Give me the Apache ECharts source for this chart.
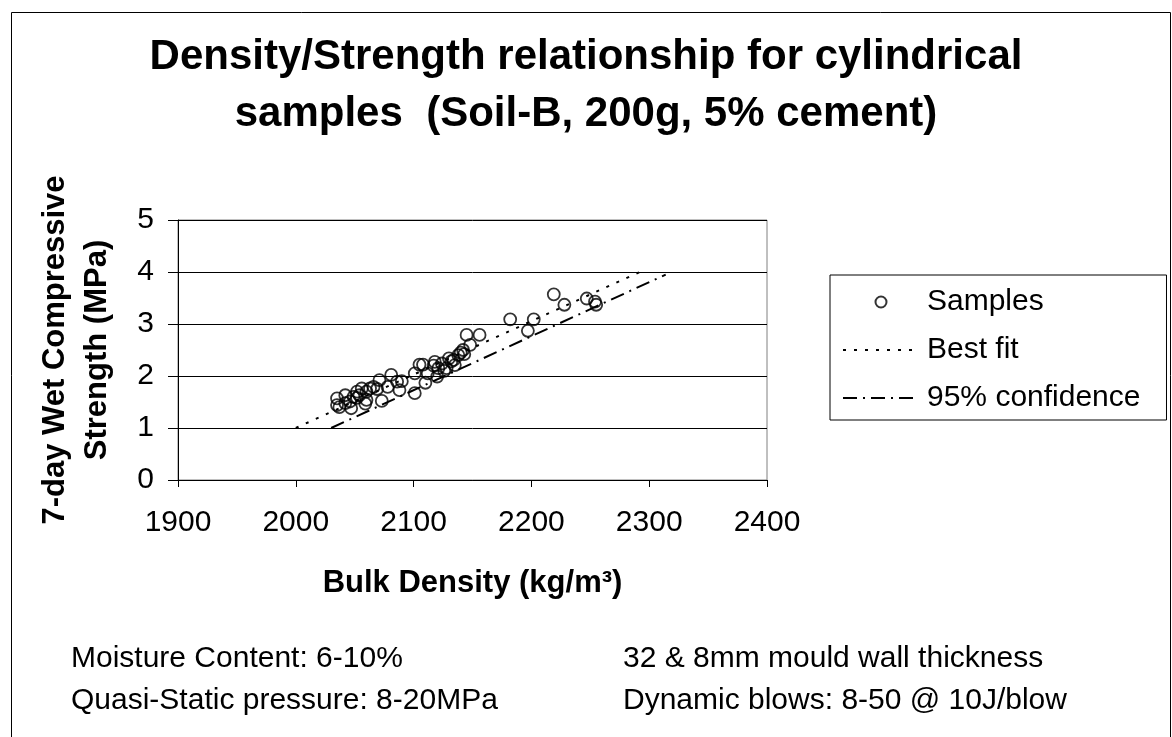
<!DOCTYPE html>
<html>
<head>
<meta charset="utf-8">
<script src="https://cdn.jsdelivr.net/npm/echarts@6/dist/echarts.min.js"></script>
<style>
  html, body { margin: 0; padding: 0; background: #fff; }
  #chart { width: 1172px; height: 737px; }
</style>
</head>
<body>
<div id="chart"></div>
<script>
// samples: [bulk density, strength]
var samples = [
    [2035, 1.57], [2035, 1.44], [2037, 1.40], [2042, 1.48], [2046, 1.51], [2049, 1.60],
    [2052, 1.70], [2054, 1.63], [2056, 1.76], [2060, 1.70], [2063, 1.76], [2066, 1.79],
    [2071, 1.92], [2073, 1.52], [2078, 1.79], [2081, 2.02], [2086, 1.89], [2047, 1.38],
    [2060, 1.54], [2042, 1.63], [2059, 1.47], [2052, 1.58], [2069, 1.75], [2088, 1.73],
    [2090, 1.90], [2101, 1.67], [2101, 2.05], [2105, 2.22], [2108, 2.22], [2112, 2.05],
    [2110, 1.87], [2118, 2.27], [2120, 1.99], [2121, 2.15], [2124, 2.24], [2128, 2.15],
    [2130, 2.34], [2134, 2.31], [2135, 2.21], [2138, 2.40], [2140, 2.45], [2142, 2.50],
    [2143, 2.42], [2145, 2.79], [2148, 2.60], [2156, 2.79], [2182, 3.09], [2197, 2.87],
    [2202, 3.09], [2219, 3.57], [2228, 3.37], [2247, 3.49], [2254, 3.43], [2255, 3.37],
    [2117, 2.20], [2126, 2.10], [2132, 2.28]
];
var bestFit = [[2000, 1.0], [2292, 4.0]];
var confidence95 = [[2030, 1.0], [2314, 3.95]];

var xTicks = [1900, 2400, 100];
var yTicks = [0, 5, 1];

var titleLines = ['Density/Strength relationship for cylindrical', 'samples  (Soil-B, 200g, 5% cement)'];
var notesLeft = ['Moisture Content: 6-10%', 'Quasi-Static pressure: 8-20MPa'];
var notesRight = ['32 & 8mm mould wall thickness', 'Dynamic blows: 8-50 @ 10J/blow'];

var FONT = "'Liberation Sans', Arial, sans-serif";

var option = {
    backgroundColor: '#fff',
    animation: false,
    textStyle: { fontFamily: FONT, color: '#000' },
    title: {
        text: titleLines.join('\n'),
        left: 'center',
        top: 24,
        textStyle: { fontFamily: FONT, fontSize: 42, fontWeight: 'bold', lineHeight: 57, color: '#000' }
    },
    grid: {
        left: 178,
        right: 405,
        top: 220,
        bottom: 257,
        show: true,
        borderColor: '#808080',
        borderWidth: 1
    },
    legend: {
        orient: 'vertical',
        left: 830,
        top: 275,
        padding: [12, 26, 7, 12],
        itemWidth: 76,
        itemHeight: 11,
        itemGap: 18,
        borderColor: '#000',
        borderWidth: 1,
        textStyle: { fontFamily: FONT, fontSize: 30, color: '#000', padding: [0, 0, 0, 3] },
        data: ['Samples', 'Best fit', '95% confidence']
    },
    xAxis: {
        type: 'value',
        min: xTicks[0],
        max: xTicks[1],
        interval: xTicks[2],
        name: 'Bulk Density (kg/m³)',
        nameLocation: 'middle',
        nameGap: 88,
        nameTextStyle: { fontFamily: FONT, fontSize: 31, fontWeight: 'bold', color: '#000' },
        axisLine: { lineStyle: { color: '#000', width: 1 } },
        axisTick: { show: true, length: 7, lineStyle: { color: '#000' } },
        axisLabel: {
            fontFamily: FONT, fontSize: 30, color: '#000', margin: 28,
            formatter: function (v) { return String(v); }
        },
        splitLine: { show: false }
    },
    yAxis: {
        type: 'value',
        min: yTicks[0],
        max: yTicks[1],
        interval: yTicks[2],
        name: '7-day Wet Compressive\nStrength (MPa)',
        nameLocation: 'middle',
        nameRotate: 90,
        nameGap: 60,
        nameTextStyle: { fontFamily: FONT, fontSize: 31, fontWeight: 'bold', lineHeight: 42, color: '#000' },
        axisLine: { show: true, lineStyle: { color: '#000', width: 1 } },
        axisTick: { show: true, length: 10, lineStyle: { color: '#000' } },
        axisLabel: { fontFamily: FONT, fontSize: 30, color: '#000', margin: 24 },
        splitLine: { show: true, lineStyle: { color: '#000', width: 1 } }
    },
    series: [
        {
            name: 'Samples',
            type: 'scatter',
            data: samples,
            symbol: 'circle',
            symbolSize: 12,
            itemStyle: { color: 'rgba(0,0,0,0)', borderColor: '#000', borderWidth: 1.8 }
        },
        {
            name: 'Best fit',
            type: 'line',
            data: bestFit,
            symbol: 'none',
            showSymbol: false,
            itemStyle: { color: '#000', opacity: 0 },
            lineStyle: { color: '#000', width: 2, type: [3, 8], opacity: 1 }
        },
        {
            name: '95% confidence',
            type: 'line',
            data: confidence95,
            symbol: 'none',
            showSymbol: false,
            itemStyle: { color: '#000', opacity: 0 },
            lineStyle: { color: '#000', width: 2, type: [14, 6, 2, 6], opacity: 1 }
        }
    ],
    graphic: [
        {
            type: 'rect',
            left: 9,
            top: 10,
            shape: { width: 1159, height: 800 },
            style: { fill: 'none', stroke: '#000', lineWidth: 1 },
            silent: true
        },
        {
            type: 'text',
            left: 71,
            top: 638,
            style: { text: notesLeft.join('\n'), font: '30px ' + FONT, lineHeight: 42, fill: '#000' }
        },
        {
            type: 'text',
            left: 623,
            top: 638,
            style: { text: notesRight.join('\n'), font: '30px ' + FONT, lineHeight: 42, fill: '#000' }
        }
    ]
};

var myChart = echarts.init(document.getElementById('chart'));
myChart.setOption(option);
</script>
</body>
</html>
